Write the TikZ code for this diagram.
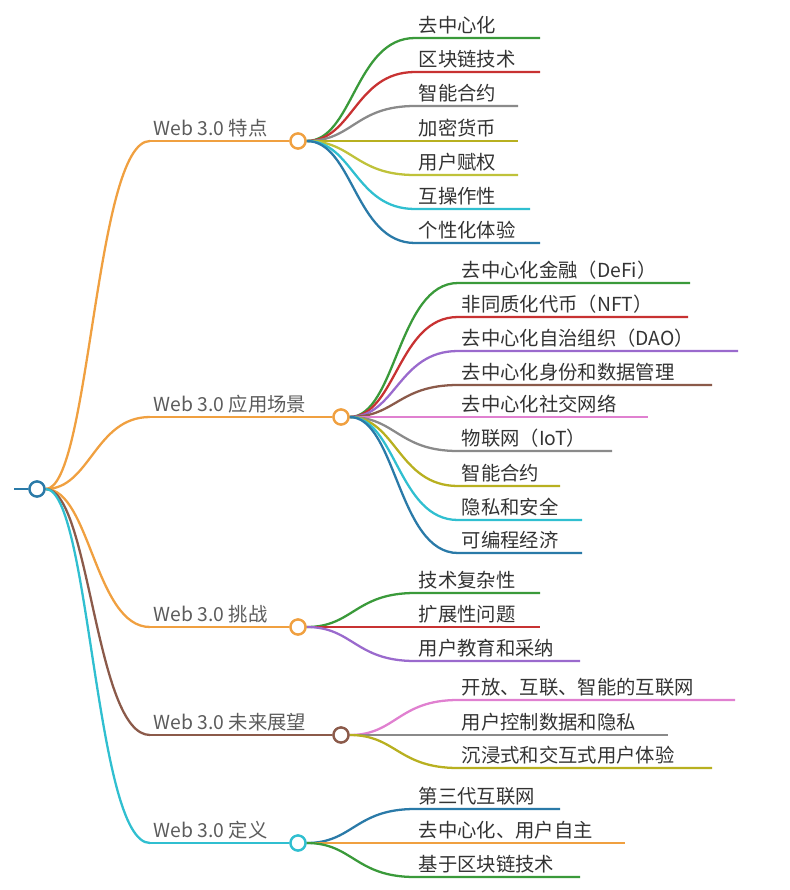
\documentclass[tikz,border=0pt]{standalone}
\usepackage{fontspec}
\setmainfont{Noto Sans CJK SC}
\definecolor{corange}{HTML}{F0A040}
\definecolor{cgreen}{HTML}{3A9A3A}
\definecolor{cred}{HTML}{C83232}
\definecolor{cgray}{HTML}{8A8A8A}
\definecolor{colive}{HTML}{B8B020}
\definecolor{cyell}{HTML}{BFC23A}
\definecolor{ccyan}{HTML}{30BFD0}
\definecolor{cblue}{HTML}{2A7AA8}
\definecolor{cpurple}{HTML}{9A6ACD}
\definecolor{cbrown}{HTML}{8B5A4A}
\definecolor{cpink}{HTML}{E080D0}
\definecolor{ctext}{HTML}{333333}
\begin{document}
\begin{tikzpicture}[x=0.02cm,y=-0.02cm,
    edge/.style={line width=1.3pt},
    hub/.style={circle,draw,line width=1.3pt,fill=white,inner sep=0pt,minimum size=0.3cm},
    leaf/.style={anchor=south west,inner sep=2pt,text=ctext,font=\fontsize{11}{13}\selectfont},
    topic/.style={anchor=south west,inner sep=2pt,text=ctext!80,font=\fontsize{11}{13}\selectfont}]
    \useasboundingbox (0,0) rectangle (789,890);

    % root
    \coordinate (stub) at (14,489);
    \node[hub,draw=cblue] (root) at (37,489) {};
    \draw[edge,cblue] (stub) -- (root);

    % branches: y / hub x / colour / label / leaf x / leaves (y/end/colour/text)
    \foreach \b/\by/\hx/\col/\lab/\lx/\leaves in {
      1/141/298/corange/{Web 3.0 特点}/415/{38/540/cgreen/去中心化,72/540/cred/区块链技术,106/518/cgray/智能合约,141/518/colive/加密货币,175/518/cyell/用户赋权,209/530/ccyan/互操作性,243/540/cblue/个性化体验},
      2/417/341/corange/{Web 3.0 应用场景}/458/{283/690/cgreen/去中心化金融（DeFi）,317/688/cred/非同质化代币（NFT）,351/738/cpurple/去中心化自治组织（DAO）,385/712/cbrown/去中心化身份和数据管理,417/648/cpink/去中心化社交网络,451/612/cgray/物联网（IoT）,486/560/colive/智能合约,520/582/ccyan/隐私和安全,553/582/cblue/可编程经济},
      3/627/298/corange/{Web 3.0 挑战}/415/{593/540/cgreen/技术复杂性,627/540/cred/扩展性问题,661/580/cpurple/用户教育和采纳},
      4/735/341/cbrown/{Web 3.0 未来展望}/458/{700/735/cpink/开放、互联、智能的互联网,735/668/cgray/用户控制数据和隐私,768/712/colive/沉浸式和交互式用户体验},
      5/843/298/ccyan/{Web 3.0 定义}/415/{809/560/cblue/第三代互联网,843/625/corange/去中心化、用户自主,877/580/cgreen/基于区块链技术}} {
      \coordinate (b\b) at (150,\by);
      \draw[edge,\col] (root.east) .. controls (90,489) and (95,\by) .. (b\b);
      \node[hub,draw=\col] (h\b) at (\hx,\by) {};
      \draw[edge,\col] (b\b) -- (h\b.west);
      \node[topic] (t\b) at (b\b) {\lab};
      \foreach \ly/\lend/\lcol/\ltext [count=\i] in \leaves {
        \coordinate (s\b-\i) at (\lx,\ly);
        \coordinate (e\b-\i) at (\lend,\ly);
        \draw[edge,\lcol] (h\b.east) .. controls (\hx+55,\by) and (\lx-60,\ly) .. (s\b-\i) -- (e\b-\i);
        \node[leaf] (l\b-\i) at (s\b-\i) {\ltext};
      }
      \node[hub,draw=\col] at (h\b) {};
    }
    \node[hub,draw=cblue] at (root) {};
\end{tikzpicture}
\end{document}
